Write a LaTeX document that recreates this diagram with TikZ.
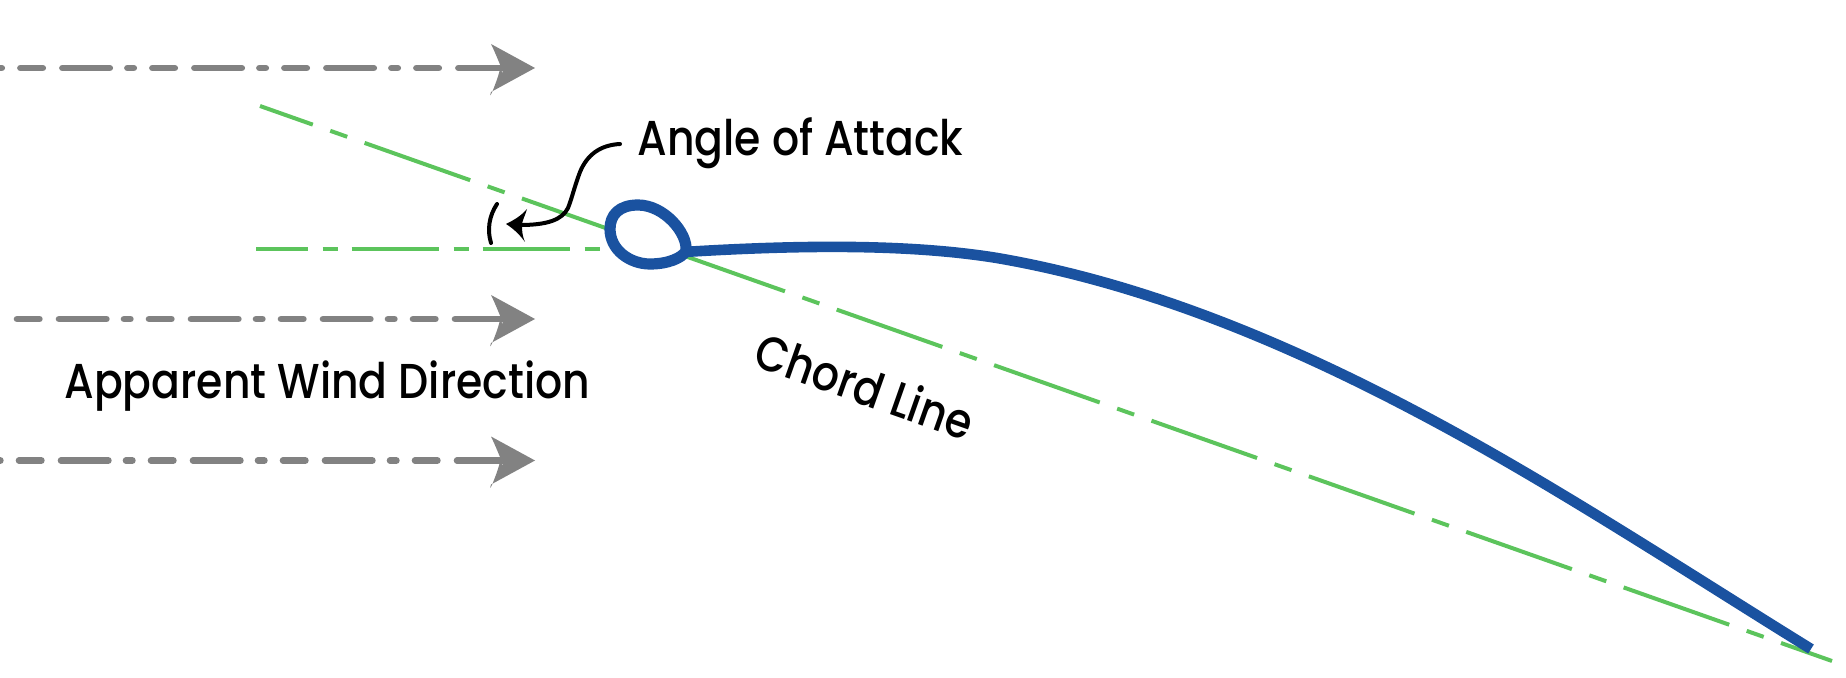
\documentclass[tikz,border=0pt]{standalone}
\usepackage{fontspec}
\setmainfont{Poppins Medium}
\definecolor{arrowgray}{HTML}{828282}
\definecolor{chordgreen}{HTML}{5CC45C}
\definecolor{foilblue}{HTML}{1A52A0}
\tikzset{
 px/.style={x=0.5pt,y=-0.5pt},
 wind/.style={draw=arrowgray,line width=3.3pt,line cap=round,dash pattern=on 23.7pt off 8.8pt on 3.2pt off 9.3pt on 11.2pt off 9.8pt},
 windhead/.style={fill=arrowgray,draw=none},
 chord/.style={draw=chordgreen,line width=2pt,dash pattern=on 56pt off 9.25pt on 9pt off 9.2pt,dash phase=28pt},
 level/.style={draw=chordgreen,line width=2pt,dash pattern=on 43.5pt off 7.5pt on 7.5pt off 7pt,dash phase=17.7pt},
 foil/.style={draw=foilblue,line width=5.3pt,line join=round},
 loopfoil/.style={draw=foilblue,line width=5.6pt,line join=round},
 ink/.style={draw=black,line width=2pt,line cap=round},
 lab/.style={font=\fontsize{24.5pt}{27pt}\selectfont\addfontfeature{FakeStretch=0.868},text=black,inner sep=0pt}
}
\begin{document}
\begin{tikzpicture}[px]
\useasboundingbox (0,0) rectangle (1846,678);
% wind arrows
\foreach \n/\y/\ph in {a/68/34.8,b/319/36.5,c/460.5/35.5}{
  \coordinate (w\n s) at (0,\y);
  \coordinate (w\n e) at (508,\y);
  \coordinate (w\n t) at (535,\y);
  \draw[wind,dash phase=\ph pt] (w\n s) -- (w\n e);
  \fill[windhead] (w\n t) -- ++(-44,-24) .. controls ++(5,10) and ++(9,18) .. ++(9,24) .. controls ++(0,6) and ++(-4,14) .. ++(-9,24) -- cycle;
}
% chord and level line
\coordinate (chA) at (260,106);
\coordinate (chB) at (1832,661);
\draw[chord] (chA) -- (chB);
\coordinate (lvA) at (256,249.5);
\coordinate (lvB) at (600,249.5);
\draw[level] (lvA) -- (lvB);
% foil
\fill[white] (686,251)
  .. controls (688,233) and (664,205) .. (638,205)
  .. controls (619,205) and (610,215) .. (610,229)
  .. controls (610,250) and (630,264) .. (650,264)
  .. controls (668,264) and (682,258) .. (686,251) -- cycle;
\draw[loopfoil] (686,251)
  .. controls (688,233) and (664,205) .. (638,205)
  .. controls (619,205) and (610,215) .. (610,229)
  .. controls (610,250) and (630,264) .. (650,264)
  .. controls (668,264) and (682,258) .. (686,251);
\draw[foil] (684,252)
  .. controls (790,245.5) and (905,243) .. (997,258)
  .. controls (1137,282) and (1277,338) .. (1417,412)
  .. controls (1550,482) and (1680,568) .. (1811,649);
% angle arc
\coordinate (arA) at (497,204);
\coordinate (arB) at (491,243);
\draw[ink] (arA) .. controls (489,216) and (487,230) .. (arB);
% pointer
\coordinate (ptA) at (620,144);
\coordinate (ptB) at (520,225);
\draw[ink] (ptA) .. controls (600,145) and (587,155) .. (580,172)
  .. controls (574,188) and (572,198) .. (568,208)
  .. controls (562,220) and (547,225) .. (ptB);
\fill[black] (506,224) .. controls (514,220) and (521,216) .. (527,209) .. controls (525,216) and (522,221) .. (522,225) .. controls (522,230) and (522,235) .. (525,242) .. controls (520,235) and (514,229) .. (506,224) -- cycle;
% labels
\node[lab,anchor=west] (aoa) at (637,143) {Angle of Attack};
\node[lab,anchor=west] (awd) at (64,386) {Apparent Wind Direction};
\node[lab,rotate=-19.4] (cl) at (865,386) {Chord Line};
\end{tikzpicture}
\end{document}
